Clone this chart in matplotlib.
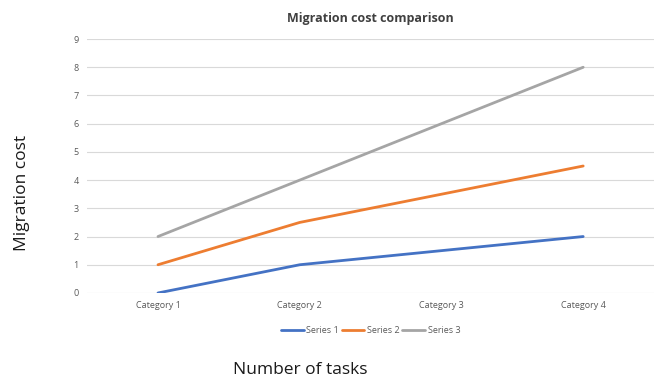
import matplotlib.pyplot as plt

categories = ["Category 1", "Category 2", "Category 3", "Category 4"]
series_1 = [0, 1, 1.5, 2]
series_2 = [1, 2.5, 3.5, 4.5]
series_3 = [2, 4, 6, 8]

plt.rcParams["font.family"] = ["Open Sans", "DejaVu Sans"]

fig = plt.figure(figsize=(6.6, 3.79), dpi=100)
ax = fig.add_axes([0.132, 0.227, 0.859, 0.670])

x = range(len(categories))
ax.plot(x, series_1, color="#4472C4", lw=2, label="Series 1", solid_capstyle="round")
ax.plot(x, series_2, color="#ED7D31", lw=2, label="Series 2", solid_capstyle="round")
ax.plot(x, series_3, color="#A5A5A5", lw=2, label="Series 3", solid_capstyle="round")

ax.set_xlim(-0.5, 3.5)
ax.set_ylim(0, 9)
ax.set_yticks(range(10))
ax.set_xticks(list(x))
ax.set_xticklabels(categories)
ax.tick_params(length=0, labelsize=6.5, labelcolor="#595959", pad=6)
ax.grid(axis="y", color="#D9D9D9", lw=0.8)
ax.set_axisbelow(True)
for s in ax.spines.values():
    s.set_visible(False)

ax.set_title("Migration cost comparison", fontsize=9, fontweight="bold",
             color="#404040", pad=12)

ax.legend(loc="upper center", bbox_to_anchor=(0.5, -0.1), ncol=3, frameon=False,
          fontsize=6.5, labelcolor="#595959", handlelength=2.5, columnspacing=0.3,
          handletextpad=0.3)

fig.text(0.033, 0.49, "Migration cost", rotation=90, fontsize=12.5,
         ha="center", va="center", color="#1a1a1a")
fig.text(0.455, 0.025, "Number of tasks", fontsize=12.5, ha="center",
         va="center", color="#1a1a1a")

fig.savefig("out.png", dpi=100)
